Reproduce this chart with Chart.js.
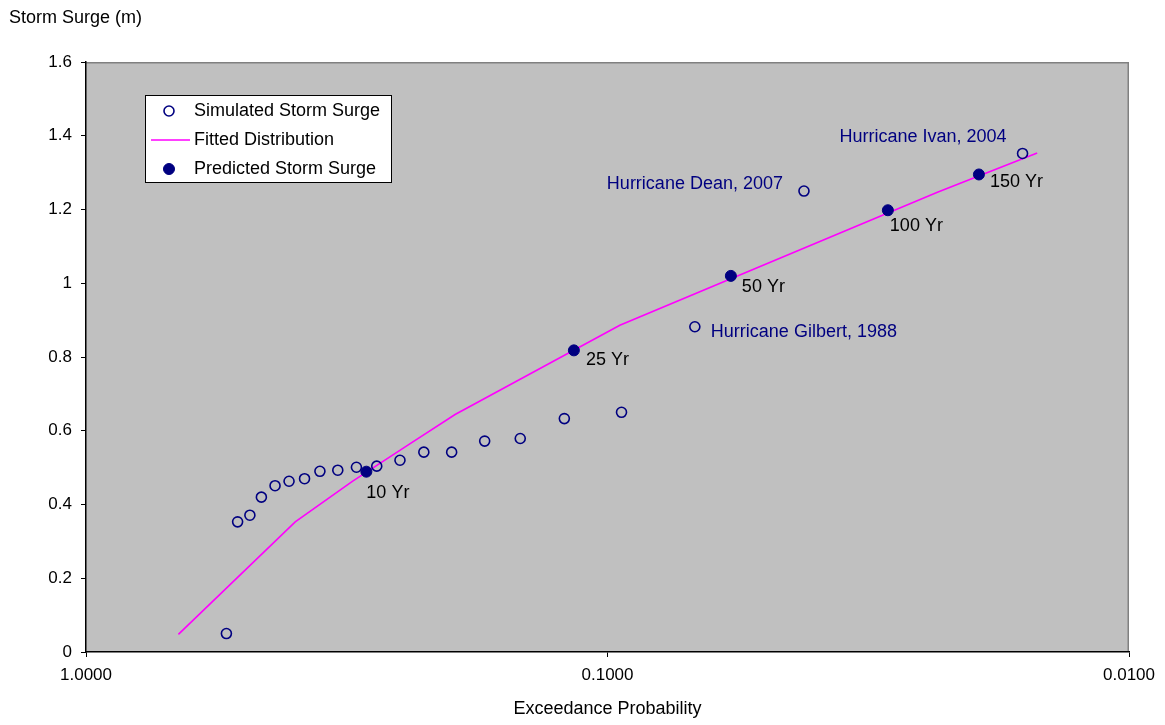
<!DOCTYPE html>
<html>
<head>
<meta charset="utf-8">
<title>Storm Surge vs Exceedance Probability</title>
<script src="https://cdn.jsdelivr.net/npm/chart.js@4.4.1/dist/chart.umd.min.js"></script>
<style>
  html, body { margin: 0; padding: 0; background: #ffffff; }
  #wrap { width: 1165px; height: 725px; }
</style>
</head>
<body>
<div id="wrap"><canvas id="chart" width="1165" height="725"></canvas></div>
<script>
// Axis ticks
const probTicks = [1, 0.1, 0.01];
const surgeTicks = [0, 0.2, 0.4, 0.6, 0.8, 1.0, 1.2, 1.4, 1.6];

// Simulated storm surge (plotting position vs surge, m)
const simProb  = [0.538, 0.512, 0.485, 0.461, 0.434, 0.408, 0.381, 0.356, 0.329, 0.303, 0.277,
                  0.250, 0.225, 0.199, 0.172, 0.147, 0.121, 0.094, 0.068, 0.042, 0.016];
const simSurge = [0.050, 0.353, 0.371, 0.420, 0.451, 0.463, 0.470, 0.490, 0.493, 0.501, 0.504,
                  0.520, 0.542, 0.542, 0.572, 0.579, 0.633, 0.650, 0.882, 1.250, 1.352];

// Historic storms among the simulated points (index into the arrays above)
const stormIndex = [18, 19, 20];
const stormNames = ['Hurricane Gilbert, 1988', 'Hurricane Dean, 2007', 'Hurricane Ivan, 2004'];

// Fitted distribution
const fitProb  = [0.665, 0.397, 0.309, 0.239, 0.196, 0.0947, 0.0233, 0.015];
const fitSurge = [0.048, 0.353, 0.462, 0.565, 0.644, 0.886, 1.247, 1.353];

// Predicted surge for return periods
const predProb   = [0.290, 0.116, 0.058, 0.029, 0.0194];
const predSurge  = [0.489, 0.818, 1.020, 1.198, 1.295];
const predLabels = ['10 Yr', '25 Yr', '50 Yr', '100 Yr', '150 Yr'];

const FONT = '"Liberation Sans", Arial, Helvetica, sans-serif';
const NAVY = '#000080';
const MAGENTA = '#FF00FF';

const toXY = (xs, ys) => xs.map((x, i) => ({ x: x, y: ys[i] }));

// Gray plot area with a darker frame on top and right
const plotBackground = {
  id: 'plotBackground',
  beforeDraw(chart) {
    const { ctx, chartArea: a } = chart;
    ctx.save();
    ctx.fillStyle = '#C0C0C0';
    ctx.fillRect(a.left, a.top, a.right - a.left, a.bottom - a.top);
    ctx.strokeStyle = '#808080';
    ctx.lineWidth = 1.5;
    ctx.beginPath();
    ctx.moveTo(a.left, a.top + 0.75);
    ctx.lineTo(a.right - 0.75, a.top + 0.75);
    ctx.lineTo(a.right - 0.75, a.bottom);
    ctx.stroke();
    ctx.restore();
  }
};

// Y axis caption above the axis, point annotations and the boxed legend
const annotations = {
  id: 'annotations',
  afterDraw(chart) {
    const { ctx, chartArea: a } = chart;
    const xs = chart.scales.x, ys = chart.scales.y;
    ctx.save();
    ctx.font = '18px ' + FONT;
    ctx.textBaseline = 'middle';

    // Axis caption
    ctx.fillStyle = '#000';
    ctx.textAlign = 'left';
    ctx.fillText('Storm Surge (m)', 9, 18);

    // Return period labels
    const yrOffsets = [[0, 21], [12, 10], [11, 11], [2, 16], [11, 8]];
    predLabels.forEach((t, i) => {
      const px = xs.getPixelForValue(predProb[i]);
      const py = ys.getPixelForValue(predSurge[i]);
      ctx.fillText(t, px + yrOffsets[i][0], py + yrOffsets[i][1]);
    });

    // Storm labels
    ctx.fillStyle = NAVY;
    const stormPlace = [[16, 5, 'left'], [-21, -7, 'right'], [-16, -16, 'right']];
    stormIndex.forEach((k, i) => {
      const px = xs.getPixelForValue(simProb[k]);
      const py = ys.getPixelForValue(simSurge[k]);
      ctx.textAlign = stormPlace[i][2];
      ctx.fillText(stormNames[i], px + stormPlace[i][0], py + stormPlace[i][1]);
    });

    // Legend
    const lx = a.left + 59, ly = a.top + 33, lw = 247, lh = 88;
    ctx.fillStyle = '#fff';
    ctx.fillRect(lx, ly, lw, lh);
    ctx.strokeStyle = '#000';
    ctx.lineWidth = 1;
    ctx.strokeRect(lx + 0.5, ly + 0.5, lw - 1, lh - 1);
    const rows = [ly + 16, ly + 45, ly + 74];
    const ds = chart.data.datasets;
    const legendOrder = [0, 1, 2];
    legendOrder.forEach((d, r) => {
      const set = ds[d];
      const cy = rows[r];
      const cx = lx + 24;
      if (set.showLine) {
        ctx.strokeStyle = set.borderColor;
        ctx.lineWidth = set.borderWidth;
        ctx.beginPath();
        ctx.moveTo(lx + 6, cy);
        ctx.lineTo(lx + 45, cy);
        ctx.stroke();
      } else {
        ctx.beginPath();
        ctx.arc(cx, cy, set.pointRadius, 0, Math.PI * 2);
        if (set.pointBackgroundColor !== 'transparent') {
          ctx.fillStyle = set.pointBackgroundColor;
          ctx.fill();
        }
        ctx.strokeStyle = set.pointBorderColor;
        ctx.lineWidth = set.pointBorderWidth;
        ctx.stroke();
      }
      ctx.fillStyle = '#000';
      ctx.textAlign = 'left';
      ctx.fillText(set.label, lx + 49, cy);
    });
    ctx.restore();
  }
};

new Chart(document.getElementById('chart'), {
  type: 'scatter',
  data: {
    datasets: [
      {
        label: 'Simulated Storm Surge',
        data: toXY(simProb, simSurge),
        showLine: false,
        pointRadius: 5,
        pointBorderWidth: 1.6,
        pointBorderColor: NAVY,
        pointBackgroundColor: 'transparent',
        order: 1
      },
      {
        label: 'Fitted Distribution',
        data: toXY(fitProb, fitSurge),
        showLine: true,
        borderColor: MAGENTA,
        borderWidth: 1.6,
        pointRadius: 0,
        tension: 0,
        fill: false,
        order: 2
      },
      {
        label: 'Predicted Storm Surge',
        data: toXY(predProb, predSurge),
        showLine: false,
        pointRadius: 5.5,
        pointBorderWidth: 1,
        pointBorderColor: NAVY,
        pointBackgroundColor: NAVY,
        order: 0
      }
    ]
  },
  options: {
    responsive: false,
    animation: false,
    devicePixelRatio: 1,
    layout: { padding: { left: 0, right: 36, top: 62, bottom: 0 } },
    plugins: {
      legend: { display: false },
      tooltip: { enabled: false }
    },
    scales: {
      x: {
        type: 'logarithmic',
        reverse: true,
        min: 0.01,
        max: 1,
        afterBuildTicks(scale) { scale.ticks = probTicks.map(v => ({ value: v })); },
        afterFit(scale) { scale.height = 73; },
        border: { display: true, color: '#000', width: 1.5 },
        grid: { drawOnChartArea: false, drawTicks: true, tickLength: 5, color: '#000' },
        ticks: {
          autoSkip: false,
          maxRotation: 0,
          padding: 8,
          color: '#000',
          font: { family: FONT, size: 17 },
          callback: v => Number(v).toFixed(4)
        },
        title: {
          display: true,
          text: 'Exceedance Probability',
          color: '#000',
          font: { family: FONT, size: 18 },
          padding: { top: 0, bottom: 5 }
        }
      },
      y: {
        type: 'linear',
        min: 0,
        max: 1.6,
        afterBuildTicks(scale) { scale.ticks = surgeTicks.map(v => ({ value: v })); },
        afterFit(scale) { scale.width = 86; },
        border: { display: true, color: '#000', width: 1.5 },
        grid: { drawOnChartArea: false, drawTicks: true, tickLength: 5, color: '#000' },
        ticks: {
          padding: 9,
          color: '#000',
          font: { family: FONT, size: 17 },
          callback: v => String(Math.round(v * 10) / 10)
        }
      }
    }
  },
  plugins: [plotBackground, annotations]
});
</script>
</body>
</html>
